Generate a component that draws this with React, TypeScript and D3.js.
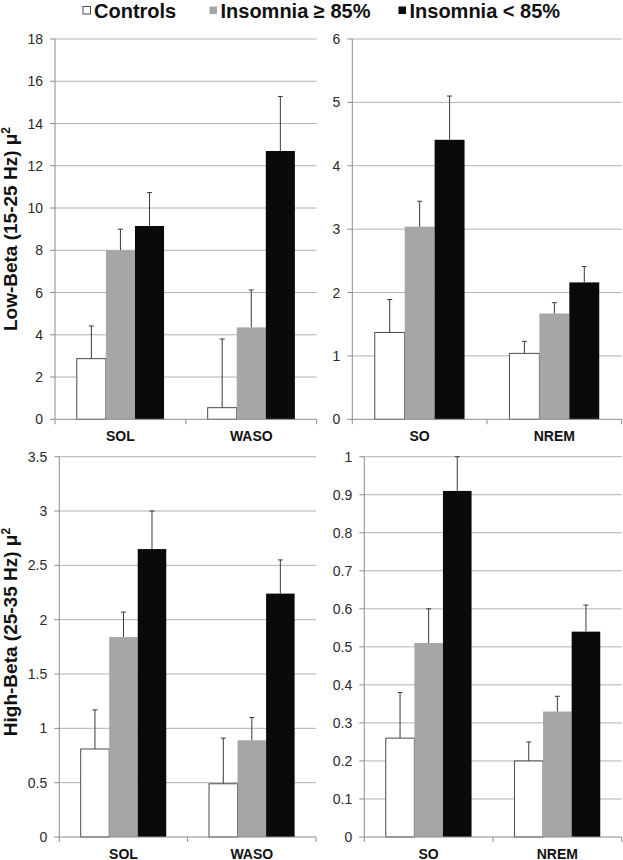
import React from "react";
import * as d3 from "d3";

const seriesNames = ["Controls", "Insomnia ≥ 85%", "Insomnia < 85%"];
const seriesColors = ["#ffffff", "#a6a6a6", "#0a0a0a"];

// Panel A: Low-Beta, SOL/WASO
const catsA = ["SOL", "WASO"];
const controlsA = [2.87, 0.55];
const ins85A = [8.0, 4.35];
const insLt85A = [9.15, 12.7];
const controlsErrA = [1.55, 3.25];
const ins85ErrA = [1.0, 1.77];
const insLt85ErrA = [1.58, 2.58];
const ticksA = [0, 2, 4, 6, 8, 10, 12, 14, 16, 18];

// Panel B: Low-Beta, SO/NREM
const catsB = ["SO", "NREM"];
const controlsB = [1.37, 1.04];
const ins85B = [3.04, 1.67];
const insLt85B = [4.41, 2.16];
const controlsErrB = [0.52, 0.19];
const ins85ErrB = [0.4, 0.17];
const insLt85ErrB = [0.69, 0.25];
const ticksB = [0, 1, 2, 3, 4, 5, 6];

// Panel C: High-Beta, SOL/WASO
const catsC = ["SOL", "WASO"];
const controlsC = [0.81, 0.49];
const ins85C = [1.84, 0.89];
const insLt85C = [2.65, 2.24];
const controlsErrC = [0.36, 0.42];
const ins85ErrC = [0.23, 0.21];
const insLt85ErrC = [0.35, 0.31];
const ticksC = [0, 0.5, 1, 1.5, 2, 2.5, 3, 3.5];

// Panel D: High-Beta, SO/NREM
const catsD = ["SO", "NREM"];
const controlsD = [0.26, 0.2];
const ins85D = [0.51, 0.33];
const insLt85D = [0.91, 0.54];
const controlsErrD = [0.12, 0.05];
const ins85ErrD = [0.09, 0.04];
const insLt85ErrD = [0.09, 0.07];
const ticksD = [0, 0.1, 0.2, 0.3, 0.4, 0.5, 0.6, 0.7, 0.8, 0.9, 1];

const FONT = "'Liberation Sans', Arial, Helvetica, sans-serif";

type PanelProps = {
  x0: number;
  x1: number;
  yTop: number;
  yBottom: number;
  cats: string[];
  values: number[][];
  errs: number[][];
  ticks: number[];
};

function Panel({ x0, x1, yTop, yBottom, cats, values, errs, ticks }: PanelProps) {
  const max = ticks[ticks.length - 1];
  const y = d3.scaleLinear().domain([0, max]).range([yBottom, yTop]);
  const xc = d3.scaleBand<string>().domain(cats).range([x0, x1]).padding(0);
  const xs = d3
    .scaleBand<string>()
    .domain(seriesNames)
    .range([0, xc.bandwidth()])
    .paddingInner(0)
    .paddingOuter(0.75);
  const bw = xs.bandwidth();
  const boundaries = [x0, ...cats.map((c) => (xc(c) as number) + xc.bandwidth())];
  return (
    <g>
      {ticks.map((t) => (
        <g key={t}>
          {t > 0 && (
            <line x1={x0} x2={x1} y1={y(t)} y2={y(t)} stroke="#b3b3b3" strokeWidth={1} />
          )}
          <line x1={x0 - 5} x2={x0} y1={y(t)} y2={y(t)} stroke="#8c8c8c" strokeWidth={1} />
          <text
            x={x0 - 12}
            y={y(t)}
            dy="0.36em"
            textAnchor="end"
            fontSize={14}
            fill="#2a2a2a"
            fontFamily={FONT}
          >
            {String(t)}
          </text>
        </g>
      ))}
      <line x1={x0} x2={x0} y1={yTop} y2={yBottom} stroke="#8c8c8c" strokeWidth={1} />
      {cats.map((c, ci) =>
        seriesNames.map((s, si) => {
          const v = values[si][ci];
          const e = errs[si][ci];
          const bx = (xc(c) as number) + (xs(s) as number);
          const cx = bx + bw / 2;
          const top = Math.max(y(v + e), yTop);
          return (
            <g key={c + s}>
              <rect
                x={bx}
                y={y(v)}
                width={bw}
                height={yBottom - y(v)}
                fill={seriesColors[si]}
                stroke={si === 0 ? "#4a4a4a" : "none"}
                strokeWidth={1}
              />
              <line x1={cx} x2={cx} y1={y(v)} y2={top} stroke="#3a3a3a" strokeWidth={1} />
              <line x1={cx - 2.5} x2={cx + 2.5} y1={top} y2={top} stroke="#3a3a3a" strokeWidth={1} />
            </g>
          );
        })
      )}
      <line x1={x0} x2={x1} y1={yBottom} y2={yBottom} stroke="#8c8c8c" strokeWidth={1} />
      {boundaries.map((b, i) => (
        <line key={i} x1={b} x2={b} y1={yBottom} y2={yBottom + 5} stroke="#8c8c8c" strokeWidth={1} />
      ))}
      {cats.map((c) => (
        <text
          key={c}
          x={(xc(c) as number) + xc.bandwidth() / 2}
          y={yBottom + 21.5}
          textAnchor="middle"
          fontSize={14}
          fontWeight="bold"
          fill="#111"
          fontFamily={FONT}
        >
          {c}
        </text>
      ))}
    </g>
  );
}

function YTitle({ x, y, label }: { x: number; y: number; label: string }) {
  return (
    <text
      transform={`translate(${x},${y}) rotate(-90)`}
      textAnchor="middle"
      fontSize={19}
      fontWeight="bold"
      fill="#111"
      fontFamily={FONT}
    >
      {label}
      <tspan fontSize={12} dy={-7}>
        2
      </tspan>
    </text>
  );
}

export default function App() {
  const legendX = [83, 209.5, 398.5];
  return (
    <svg
      width={623}
      height={860}
      style={{ position: "absolute", left: 0, top: 0, background: "#fff" }}
    >
      <rect x={0} y={0} width={623} height={860} fill="#fff" />
      {seriesNames.map((s, i) => (
        <g key={s}>
          <rect
            x={legendX[i]}
            y={6.5}
            width={7.5}
            height={7.5}
            fill={seriesColors[i]}
            stroke={i === 0 ? "#4a4a4a" : "none"}
            strokeWidth={1}
          />
          <text
            x={legendX[i] + 11}
            y={17.5}
            fontSize={20}
            fontWeight="bold"
            fill="#111"
            fontFamily={FONT}
          >
            {s}
          </text>
        </g>
      ))}
      <Panel
        x0={55}
        x1={316.7}
        yTop={39}
        yBottom={419.3}
        cats={catsA}
        values={[controlsA, ins85A, insLt85A]}
        errs={[controlsErrA, ins85ErrA, insLt85ErrA]}
        ticks={ticksA}
      />
      <Panel
        x0={352.3}
        x1={621.7}
        yTop={39}
        yBottom={419.3}
        cats={catsB}
        values={[controlsB, ins85B, insLt85B]}
        errs={[controlsErrB, ins85ErrB, insLt85ErrB]}
        ticks={ticksB}
      />
      <Panel
        x0={59.3}
        x1={316}
        yTop={456.7}
        yBottom={837}
        cats={catsC}
        values={[controlsC, ins85C, insLt85C]}
        errs={[controlsErrC, ins85ErrC, insLt85ErrC]}
        ticks={ticksC}
      />
      <Panel
        x0={364.3}
        x1={621.7}
        yTop={456.7}
        yBottom={837}
        cats={catsD}
        values={[controlsD, ins85D, insLt85D]}
        errs={[controlsErrD, ins85ErrD, insLt85ErrD]}
        ticks={ticksD}
      />
      <YTitle x={17} y={229} label="Low-Beta (15-25 Hz) μ" />
      <YTitle x={17} y={632} label="High-Beta (25-35 Hz) μ" />
    </svg>
  );
}
